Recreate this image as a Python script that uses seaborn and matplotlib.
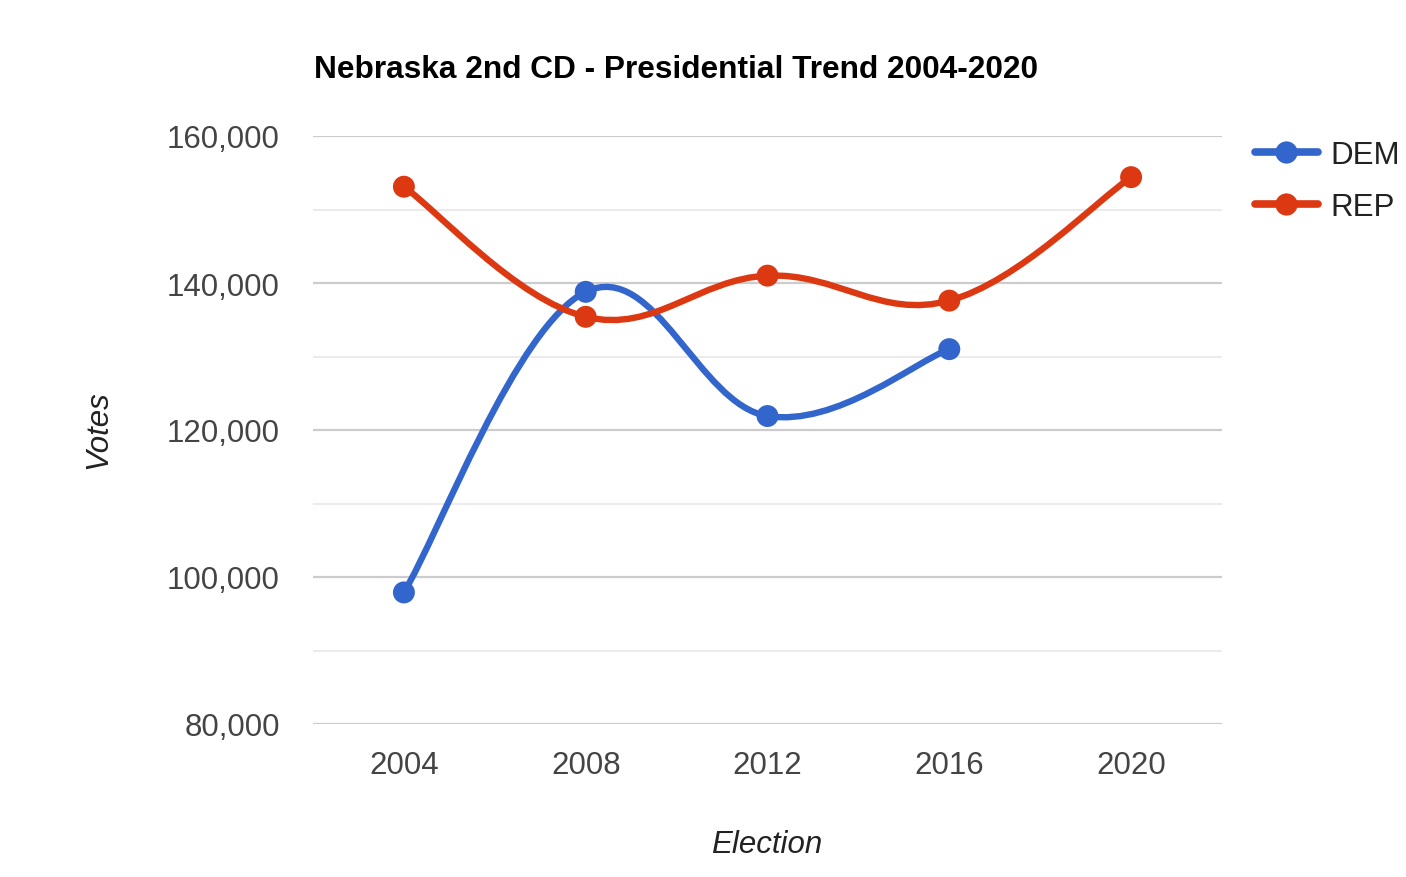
import numpy as np
import pandas as pd
import seaborn as sns
import matplotlib.pyplot as plt
from matplotlib.path import Path
from matplotlib.patches import PathPatch
from matplotlib.lines import Line2D

# data
years = [2004, 2008, 2012, 2016, 2020]
dem = [97900, 138800, 121900, 131000, np.nan]
rep = [153100, 135400, 141000, 137600, 154400]
parties = ['DEM', 'REP']
colors = {'DEM': '#3366cc', 'REP': '#dc3912'}

df = pd.DataFrame({'year': years * 2,
                   'votes': dem + rep,
                   'party': ['DEM'] * len(years) + ['REP'] * len(years)}).dropna()

sns.set_theme(style='white')
plt.rcParams['font.family'] = ['Liberation Sans', 'DejaVu Sans']

fig = plt.figure(figsize=(14.06, 8.78), dpi=100)
ax = fig.add_axes([313 / 1406, 153 / 878, 909 / 1406, 588 / 878])


def smooth_path(xs, ys, f=0.19):
    # bezier curve through the points (google "function" curve look)
    pts = np.column_stack([xs, ys]).astype(float)
    n = len(pts)
    verts = [pts[0]]
    codes = [Path.MOVETO]
    for i in range(n - 1):
        p0 = pts[max(i - 1, 0)]
        p1 = pts[i]
        p2 = pts[i + 1]
        p3 = pts[min(i + 2, n - 1)]
        verts += [p1 + (p2 - p0) * f, p2 - (p3 - p1) * f, p2]
        codes += [Path.CURVE4] * 3
    return Path(verts, codes)


for p in parties:
    sub = df[df.party == p]
    path = smooth_path(sub.year.values, sub.votes.values)
    ax.add_patch(PathPatch(path, facecolor='none', edgecolor=colors[p],
                           lw=4.6, capstyle='round', joinstyle='round', zorder=2))

sns.scatterplot(data=df, x='year', y='votes', hue='party', palette=colors,
                s=250, linewidth=0, legend=False, zorder=3, ax=ax)

ax.set_xlim(2002, 2022)
ax.set_ylim(80000, 160000)
ax.set_xticks(years)
ax.set_yticks(np.arange(80000, 160001, 20000))
ax.set_yticks(np.arange(90000, 160000, 20000), minor=True)
ax.set_yticklabels([f'{v:,}' for v in range(80000, 160001, 20000)])
ax.grid(axis='y', which='major', color='#cccccc', lw=1.6, zorder=0)
ax.grid(axis='y', which='minor', color='#ebebeb', lw=1.4, zorder=0)
ax.set_axisbelow(True)
for s in ax.spines.values():
    s.set_visible(False)
ax.tick_params(axis='both', which='both', length=0, labelsize=22.5, labelcolor='#444444')
ax.tick_params(axis='y', pad=24)
ax.tick_params(axis='x', pad=19)
ax.set_xlabel('')
ax.set_ylabel('')

fig.text(314 / 1406, 1 - 70 / 878, 'Nebraska 2nd CD - Presidential Trend 2004-2020',
         fontsize=22.8, fontweight='bold', color='black', ha='left', va='center')
fig.text(98 / 1406, 1 - 430 / 878, 'Votes', fontsize=22.5, style='italic',
         color='#222222', rotation=90, ha='center', va='center')
fig.text(767 / 1406, 1 - 845 / 878, 'Election', fontsize=22.5, style='italic',
         color='#222222', ha='center', va='center')

handles = [Line2D([], [], color=colors[p], lw=5.5, marker='o', markersize=16,
                  markeredgewidth=0) for p in parties]
fig.legend(handles, parties, loc='upper left', bbox_to_anchor=(1255 / 1406, 1 - 141 / 878),
           frameon=False, fontsize=22.5, handlelength=2.0, handletextpad=0.4,
           labelspacing=0.7, borderpad=0, borderaxespad=0, labelcolor='#222222')

fig.savefig('out.png', dpi=100, facecolor='white')
